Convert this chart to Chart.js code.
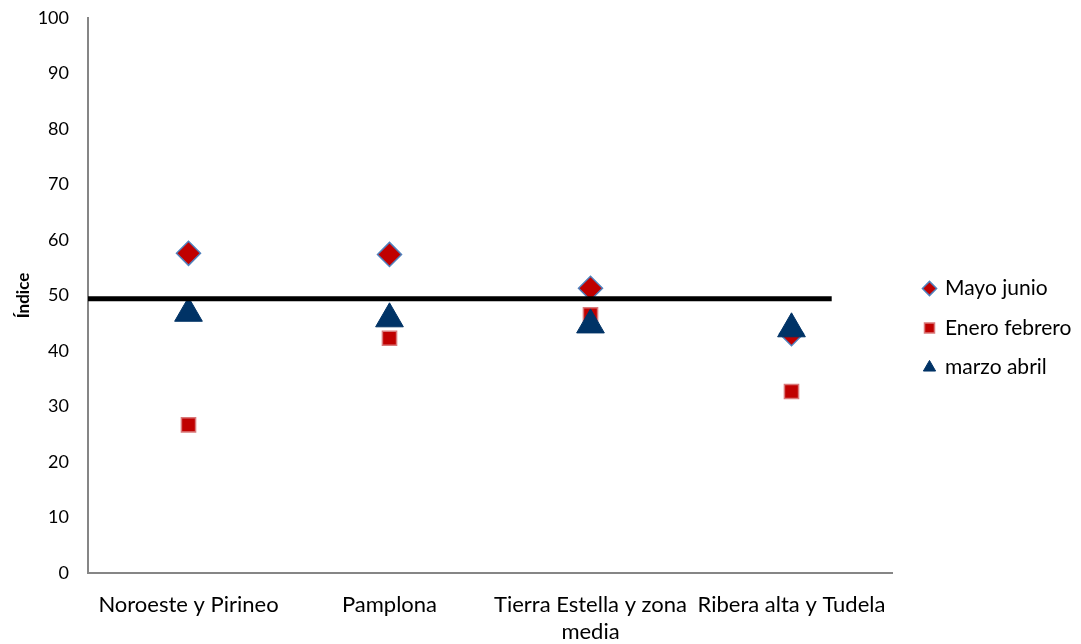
<!DOCTYPE html>
<html>
<head>
<meta charset="utf-8">
<script src="https://cdn.jsdelivr.net/npm/chart.js@4/dist/chart.umd.min.js"></script>
<style>
  html, body { margin: 0; padding: 0; background: #fff; }
  #wrap { width: 1081px; height: 644px; }
</style>
</head>
<body>
<div id="wrap"><canvas id="c" width="1081" height="644"></canvas></div>
<script>
const categories = ['Noroeste y Pirineo', 'Pamplona', 'Tierra Estella y zona media', 'Ribera alta y Tudela'];
const tickLabels = [['Noroeste y Pirineo'], ['Pamplona'], ['Tierra Estella y zona', 'media'], ['Ribera alta y Tudela']];
const mayoJunio = [57.6, 57.4, 51.3, 43.1];
const eneroFebrero = [26.7, 42.3, 46.5, 32.7];
const marzoAbril = [46.8, 45.8, 44.7, 44.0];
const referenceValue = 49.4;
const referenceSpan = [0.5, 4.2];
const yTicks = { min: 0, max: 100, step: 10 };

const pts = arr => arr.map((v, i) => ({ x: i + 1, y: v }));
const FONT = 'Lato, "Open Sans", sans-serif';

const legendFit = {
  id: 'legendFit',
  beforeLayout(chart) {
    const lg = chart.legend;
    if (lg && !lg._patched) {
      const fit = lg.fit;
      lg.fit = function () { fit.call(this); this.width = 189; };
      lg._patched = true;
    }
  },
  afterLayout(chart) {
    const lg = chart.legend;
    if (lg) { lg.left += 14; lg.right += 14; lg.top -= 3; lg.bottom -= 3; }
  }
};

new Chart(document.getElementById('c'), {
  type: 'scatter',
  data: {
    datasets: [
      {
        label: 'Mayo junio', data: pts(mayoJunio), pointStyle: 'rectRot',
        pointRadius: 12, pointHoverRadius: 12,
        backgroundColor: '#C00000', borderColor: '#4F81BD', borderWidth: 1.5, order: 3
      },
      {
        label: 'Enero febrero', data: pts(eneroFebrero), pointStyle: 'rect',
        pointRadius: 10, pointHoverRadius: 10,
        backgroundColor: '#C00000', borderColor: '#D9797A', borderWidth: 1.5, order: 2
      },
      {
        label: 'marzo abril', data: pts(marzoAbril), pointStyle: 'triangle',
        pointRadius: 16, pointHoverRadius: 16,
        backgroundColor: '#003366', borderColor: '#003366', borderWidth: 1, order: 1
      },
      {
        label: 'ref', type: 'line',
        data: referenceSpan.map(x => ({ x, y: referenceValue })),
        borderColor: '#000', borderWidth: 5, pointRadius: 0, showLine: true, fill: false, order: 0
      }
    ]
  },
  options: {
    responsive: false,
    animation: false,
    events: [],
    layout: { padding: { top: 18, right: 0, bottom: 0, left: 0 } },
    plugins: {
      tooltip: { enabled: false },
      legend: {
        position: 'right',
        labels: {
          usePointStyle: true, boxWidth: 10, boxHeight: 10, padding: 18.5,
          color: '#000', font: { family: FONT, size: 21 },
          filter: item => item.datasetIndex < 3,
          sort: (a, b) => a.datasetIndex - b.datasetIndex
        }
      }
    },
    scales: {
      x: {
        type: 'linear', min: 0.5, max: 4.5,
        afterBuildTicks: s => { s.ticks = categories.map((c, i) => ({ value: i + 1 })); },
        afterFit: s => { s.height = 71; },
        grid: { display: false, drawTicks: false },
        border: { display: true, color: '#868686', width: 2 },
        ticks: {
          autoSkip: false, maxRotation: 0, padding: 19, color: '#000',
          font: { family: FONT, size: 22 },
          callback: v => tickLabels[Math.round(v) - 1]
        }
      },
      y: {
        min: yTicks.min, max: yTicks.max,
        afterFit: s => { s.width = 88; s.paddingTop = 0; s.paddingBottom = 0; },
        grid: { display: false, drawTicks: false },
        border: { display: true, color: '#868686', width: 2 },
        ticks: { stepSize: yTicks.step, padding: 19, color: '#000', font: { family: FONT, size: 18 } },
        title: { display: true, text: 'Índice', color: '#000', font: { family: FONT, size: 17, weight: 'bold' }, padding: { top: 13, bottom: 0 } }
      }
    }
  },
  plugins: [legendFit]
});
</script>
</body>
</html>
